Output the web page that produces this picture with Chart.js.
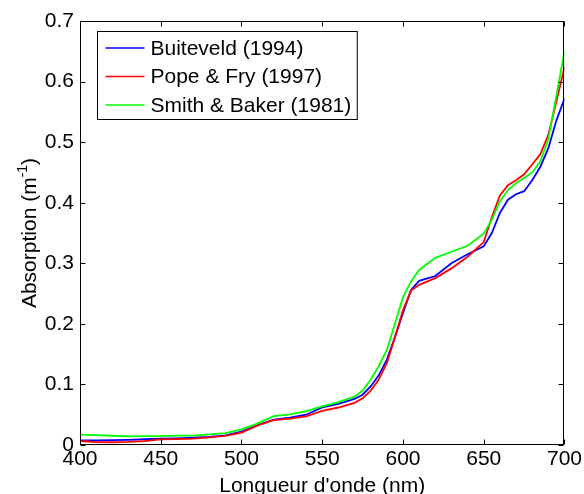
<!DOCTYPE html>
<html>
<head>
<meta charset="utf-8">
<script src="https://cdn.jsdelivr.net/npm/chart.js@4/dist/chart.umd.min.js"></script>
<style>
  html, body { margin: 0; padding: 0; background: #fff; }
  #wrap { width: 584px; height: 494px; }
</style>
</head>
<body>
<div id="wrap"><canvas id="absChart" width="584" height="494"></canvas></div>
<script>
// wavelengths (nm)
const wavelengths = [400, 410, 420, 430, 440, 450, 460, 470, 480, 490, 500, 510, 520, 530, 540, 550, 560, 570,
    575, 580, 585, 590, 595, 600, 605, 610,
    620, 630, 640, 650,
    655, 660, 665, 670, 675, 680, 685, 690, 695, 700];

// absorption (m^-1)
const buiteveld = [0.0075, 0.0076, 0.0079, 0.0086, 0.0095, 0.0105, 0.0110, 0.0120, 0.0135, 0.0160, 0.0220, 0.0330, 0.0420, 0.0450, 0.0500, 0.0620, 0.0680, 0.0760,
    0.083, 0.0967, 0.115, 0.141, 0.178, 0.218, 0.256, 0.271,
    0.279, 0.300, 0.315, 0.328,
    0.350, 0.383, 0.405, 0.414, 0.419, 0.437, 0.459, 0.490, 0.536, 0.572];
const popeFry = [0.0066, 0.0047, 0.0045, 0.0050, 0.0064, 0.0092, 0.0098, 0.0106, 0.0127, 0.0150, 0.0204, 0.0325, 0.0409, 0.0434, 0.0474, 0.0565, 0.0619, 0.0695,
    0.077, 0.0896, 0.108, 0.1351, 0.178, 0.2224, 0.255, 0.2644,
    0.2755, 0.2916, 0.3108, 0.335,
    0.376, 0.412, 0.429, 0.437, 0.447, 0.463, 0.480, 0.512, 0.567, 0.624];
const smithBaker = [0.0171, 0.0162, 0.0153, 0.0144, 0.0145, 0.0145, 0.0156, 0.0156, 0.0176, 0.0196, 0.0257, 0.0357, 0.0477, 0.0507, 0.0558, 0.0638, 0.0708, 0.0799,
    0.090, 0.108, 0.130, 0.157, 0.200, 0.244, 0.270, 0.289,
    0.309, 0.319, 0.329, 0.349,
    0.372, 0.402, 0.421, 0.432, 0.441, 0.450, 0.468, 0.505, 0.577, 0.650];

const seriesNames = ["Buiteveld (1994)", "Pope & Fry (1997)", "Smith & Baker (1981)"];
const seriesColors = ["#0000ff", "#ff0000", "#00ff00"];

const xTicks = [400, 450, 500, 550, 600, 650, 700];
const yTicks = [0, 0.1, 0.2, 0.3, 0.4, 0.5, 0.6, 0.7];

const FONT = '"Liberation Sans", Arial, Helvetica, sans-serif';

const toPoints = vals => vals.map((v, i) => ({ x: wavelengths[i], y: v }));

// box, inward ticks on all four sides, legend and axis titles (MATLAB look)
const matlabFrame = {
    id: 'matlabFrame',
    afterDraw(chart) {
        const { ctx, chartArea: a, scales: { x, y } } = chart;
        ctx.save();
        ctx.strokeStyle = '#000';
        ctx.lineWidth = 1;
        const L = Math.round(a.left) + 0.5, R = Math.round(a.right) - 0.5;
        const T = Math.round(a.top) + 0.5, B = Math.round(a.bottom) - 0.5;
        ctx.strokeRect(L, T, R - L, B - T);

        const tl = 5;
        ctx.beginPath();
        xTicks.forEach(t => {
            const px = Math.round(x.getPixelForValue(t)) + 0.5;
            ctx.moveTo(px, B); ctx.lineTo(px, B - tl);
            ctx.moveTo(px, T); ctx.lineTo(px, T + tl);
        });
        yTicks.forEach(t => {
            const py = Math.round(y.getPixelForValue(t)) + 0.5;
            ctx.moveTo(L, py); ctx.lineTo(L + tl, py);
            ctx.moveTo(R, py); ctx.lineTo(R - tl, py);
        });
        ctx.stroke();

        // legend
        ctx.font = '21px ' + FONT;
        const textW = Math.max(...seriesNames.map(s => ctx.measureText(s).width));
        const bx = 97.5, by = 31.5, lineLen = 39, gap = 6;
        const bw = 8 + lineLen + gap + textW + 6, bh = 88;
        ctx.fillStyle = '#fff';
        ctx.fillRect(bx, by, bw, bh);
        ctx.strokeRect(bx, by, bw, bh);
        ctx.textBaseline = 'middle';
        ctx.textAlign = 'left';
        chart.data.datasets.forEach((ds, i) => {
            const ry = 48 + i * 28.5;
            ctx.strokeStyle = ds.borderColor;
            ctx.lineWidth = 1.5;
            ctx.beginPath();
            ctx.moveTo(bx + 8, ry); ctx.lineTo(bx + 8 + lineLen, ry);
            ctx.stroke();
            ctx.fillStyle = '#000';
            ctx.fillText(ds.label, bx + 8 + lineLen + gap, ry + 1);
        });

        // x title
        ctx.fillStyle = '#000';
        ctx.textAlign = 'center';
        ctx.textBaseline = 'alphabetic';
        ctx.font = '21px ' + FONT;
        ctx.fillText("Longueur d'onde (nm)", (a.left + a.right) / 2, 492);

        // y title with superscript
        const main1 = 'Absorption (m', sup = '-1', main2 = ')';
        ctx.font = '21px ' + FONT;
        const w1 = ctx.measureText(main1).width, w3 = ctx.measureText(main2).width;
        ctx.font = '14px ' + FONT;
        const w2 = ctx.measureText(sup).width;
        const total = w1 + w2 + w3;
        ctx.translate(36, (a.top + a.bottom) / 2);
        ctx.rotate(-Math.PI / 2);
        ctx.textAlign = 'left';
        let cx = -total / 2;
        ctx.font = '21px ' + FONT;
        ctx.fillText(main1, cx, 0); cx += w1;
        ctx.font = '14px ' + FONT;
        ctx.fillText(sup, cx, -9); cx += w2;
        ctx.font = '21px ' + FONT;
        ctx.fillText(main2, cx, 0);
        ctx.restore();
    }
};

document.addEventListener("DOMContentLoaded", () => {
    const ctx = document.getElementById("absChart").getContext("2d");
    new Chart(ctx, {
        type: "line",
        data: {
            datasets: [
                { label: seriesNames[0], data: toPoints(buiteveld), borderColor: seriesColors[0], order: 3 },
                { label: seriesNames[1], data: toPoints(popeFry), borderColor: seriesColors[1], order: 2 },
                { label: seriesNames[2], data: toPoints(smithBaker), borderColor: seriesColors[2], order: 1 }
            ]
        },
        options: {
            responsive: false,
            animation: false,
            devicePixelRatio: 1,
            layout: { padding: { left: 0, top: 21, right: 18, bottom: 0 } },
            elements: {
                line: { borderWidth: 1.8, tension: 0, fill: false },
                point: { radius: 0 }
            },
            plugins: { legend: { display: false }, tooltip: { enabled: false } },
            scales: {
                x: {
                    type: "linear",
                    min: 400, max: 700,
                    afterBuildTicks: s => { s.ticks = xTicks.map(v => ({ value: v })); },
                    afterFit: s => { s.height = 49; },
                    grid: { display: false, drawTicks: false },
                    border: { display: false },
                    ticks: { padding: 2, color: "#000", font: { family: FONT, size: 21 }, maxRotation: 0,
                             callback: v => String(v) }
                },
                y: {
                    min: 0, max: 0.7,
                    afterBuildTicks: s => { s.ticks = yTicks.map(v => ({ value: v })); },
                    afterFit: s => { s.width = 80; },
                    grid: { display: false, drawTicks: false },
                    border: { display: false },
                    ticks: { padding: 6, color: "#000", font: { family: FONT, size: 21 },
                             callback: v => String(parseFloat(v.toFixed(1))) }
                }
            }
        },
        plugins: [matlabFrame]
    });
});
</script>
</body>
</html>
